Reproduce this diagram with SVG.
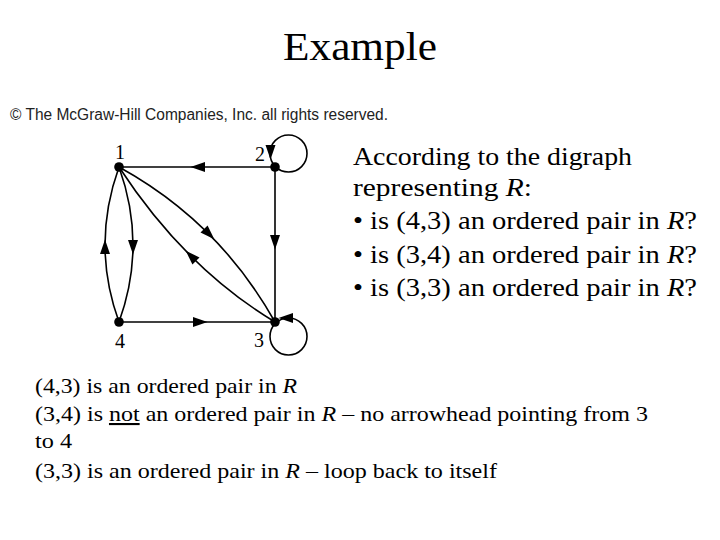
<svg xmlns="http://www.w3.org/2000/svg" xmlns:xlink="http://www.w3.org/1999/xlink" width="720" height="540" viewBox="0 0 720 540">
<style>
.serif{font-family:"Liberation Serif","Times New Roman",serif;fill:#000}
.edge{fill:none;stroke:#000;stroke-width:1.6}
.node{fill:#000}
.lbl{font-family:"Liberation Serif","Times New Roman",serif;font-size:20px;fill:#000;text-anchor:middle}
</style>
<defs>
<path id="ah" d="M7.5,0 L-7,-5 L-7,5 Z" fill="#000"/>
</defs>
<rect width="720" height="540" fill="#fff"/>
<text class="serif" x="283" y="60" font-size="40" textLength="154" lengthAdjust="spacingAndGlyphs">Example</text>
<text x="10" y="120" font-family="'Liberation Sans',Arial,sans-serif" font-size="16" fill="#222" textLength="378" lengthAdjust="spacingAndGlyphs">© The McGraw-Hill Companies, Inc. all rights reserved.</text>
<g id="connectors">
<path class="edge" d="M275,167 L119,167"/>
<path class="edge" d="M275,167 L275,322"/>
<path class="edge" d="M119,322 L275,322"/>
<path class="edge" d="M119,167 Q147,245 119,322"/>
<path class="edge" d="M119,322 Q91,245 119,167"/>
<path class="edge" d="M119,167 Q219,222 275,322"/>
<path class="edge" d="M275,322 Q185,268 119,167"/>
<circle class="edge" cx="288.5" cy="153.5" r="18.5"/>
<circle class="edge" cx="288.5" cy="336.5" r="18.5"/>
<use xlink:href="#ah" transform="translate(198,167) rotate(180)"/>
<use xlink:href="#ah" transform="translate(275,242) rotate(90)"/>
<use xlink:href="#ah" transform="translate(200,322)"/>
<use xlink:href="#ah" transform="translate(133,247) rotate(90)"/>
<use xlink:href="#ah" transform="translate(105,247) rotate(-90)"/>
<use xlink:href="#ah" transform="translate(209,234) rotate(45)"/>
<use xlink:href="#ah" transform="translate(191,256) rotate(225)"/>
<use xlink:href="#ah" transform="translate(270.5,152) rotate(90)"/>
<use xlink:href="#ah" transform="translate(286,318) rotate(180)"/>
</g>
<g id="n1"><circle class="node" cx="119" cy="167" r="4.8"/><text class="lbl" x="120" y="159">1</text></g>
<g id="n2"><circle class="node" cx="275" cy="167" r="4.8"/><text class="lbl" x="260" y="161">2</text></g>
<g id="n3"><circle class="node" cx="275" cy="322" r="4.8"/><text class="lbl" x="259" y="347">3</text></g>
<g id="n4"><circle class="node" cx="119" cy="322" r="4.8"/><text class="lbl" x="120" y="348">4</text></g>
<g class="serif" font-size="26">
<text x="353" y="165" textLength="279" lengthAdjust="spacingAndGlyphs">According to the digraph</text>
<text x="353" y="196" textLength="179" lengthAdjust="spacingAndGlyphs">representing <tspan font-style="italic">R</tspan>:</text>
<text x="353" y="229" textLength="344" lengthAdjust="spacingAndGlyphs">• is (4,3) an ordered pair in <tspan font-style="italic">R</tspan>?</text>
<text x="353" y="263" textLength="344" lengthAdjust="spacingAndGlyphs">• is (3,4) an ordered pair in <tspan font-style="italic">R</tspan>?</text>
<text x="353" y="296" textLength="344" lengthAdjust="spacingAndGlyphs">• is (3,3) an ordered pair in <tspan font-style="italic">R</tspan>?</text>
</g>
<g class="serif" font-size="21">
<text x="35" y="393" textLength="262" lengthAdjust="spacingAndGlyphs">(4,3) is an ordered pair in <tspan font-style="italic">R</tspan></text>
<text x="35" y="421" textLength="613" lengthAdjust="spacingAndGlyphs">(3,4) is <tspan text-decoration="underline">not</tspan> an ordered pair in <tspan font-style="italic">R</tspan> – no arrowhead pointing from 3</text>
<text x="35" y="448" textLength="37" lengthAdjust="spacingAndGlyphs">to 4</text>
<text x="35" y="478" textLength="462" lengthAdjust="spacingAndGlyphs">(3,3) is an ordered pair in <tspan font-style="italic">R</tspan> – loop back to itself</text>
</g>
</svg>
